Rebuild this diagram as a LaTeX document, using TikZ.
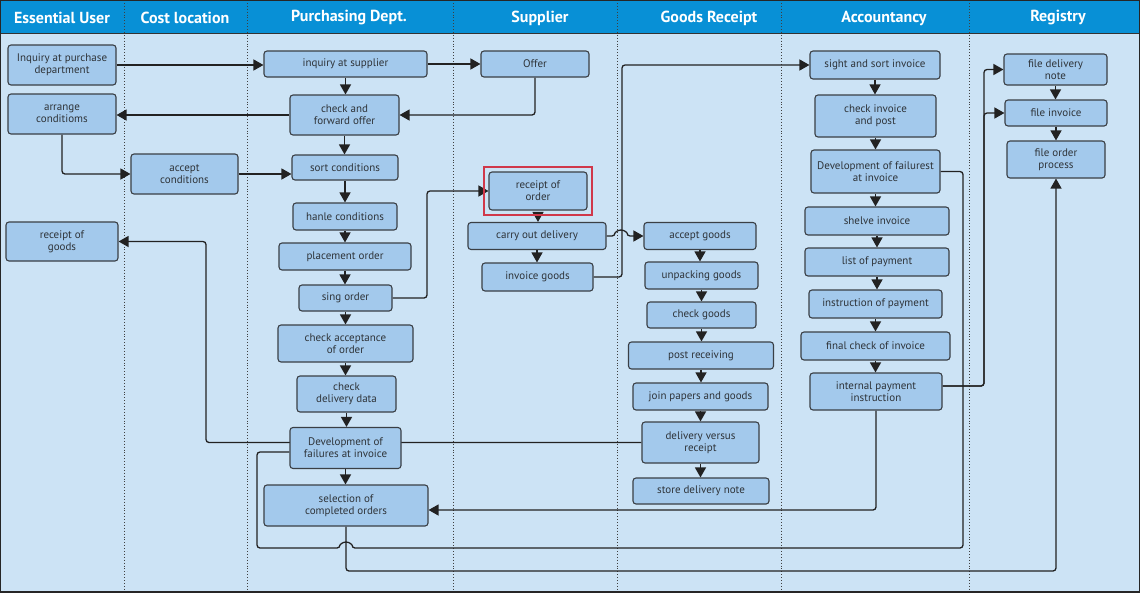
\documentclass[tikz,border=0pt]{standalone}
\usepackage{fontspec}
\setmainfont{PT Sans}
\usetikzlibrary{arrows.meta,fit}
\definecolor{hdr}{HTML}{0890D6}
\definecolor{lanebg}{HTML}{CCE3F5}
\definecolor{boxf}{HTML}{A3C9EC}
\definecolor{boxl}{HTML}{3A3F45}
\definecolor{txt}{HTML}{2E3338}
\definecolor{lnc}{HTML}{222222}
\definecolor{redf}{HTML}{D0384A}
\pgfdeclarelayer{back}
\pgfdeclarelayer{conn}
\pgfsetlayers{back,conn,main}
\newcommand\bx[6]{\node[box,minimum width=#4pt,minimum height=#5pt] (#1) at (#2,#3) {#6};}
\begin{document}
\begin{tikzpicture}[x=1pt,y=-1pt,
  box/.style={draw=boxl, fill=boxf, rounded corners=3pt, line width=1.1pt, align=center, inner sep=0pt, text=txt, font=\fontsize{11}{12}\selectfont},
  arr/.style={draw=lnc, line width=1.3pt, rounded corners=3pt, -{Triangle[length=10pt,width=11pt]}},
  ln/.style={draw=lnc, line width=1.3pt, rounded corners=3pt},
  hdrtext/.style={text=white, font=\fontsize{16}{18}\selectfont\bfseries},
  sep/.style={draw=black!75, line width=0.9pt, dotted}]
\useasboundingbox (0,0) rectangle (1140,592);
\begin{pgfonlayer}{back}
\fill[lanebg] (0,0) rectangle (1140,592);
\fill[hdr] (0,0) rectangle (1140,33);
\draw[black!80, line width=1pt] (0,33) -- (1140,33);
\foreach \x in {124,247.5,453,617,781,969} \draw[sep] (\x,0) -- (\x,592);
\draw[black!85, line width=1.6pt] (0,0) rectangle (1140,592);
\end{pgfonlayer}
% headers
\node[hdrtext] (h1) at (62,18) {Essential User};
\node[hdrtext] (h2) at (185,18) {Cost location};
\node[hdrtext] (h3) at (349,18) {Purchasing Dept.};
\node[hdrtext] (h4) at (540,18) {Supplier};
\node[hdrtext] (h5) at (709,18) {Goods Receipt};
\node[hdrtext] (h6) at (884,18) {Accountancy};
\node[hdrtext] (h7) at (1058,18) {Registry};
% Essential User
\bx{eu1}{62}{65}{108}{40}{Inquiry at purchase\\department}
\bx{eu2}{62}{114}{108}{40}{arrange\\conditioms}
\bx{eu3}{62}{241.5}{112}{39}{receipt of\\goods}
% Cost location
\bx{cl1}{184.5}{174}{107}{40}{accept\\conditions}
% Purchasing
\bx{pd1}{345.5}{64}{163}{26}{inquiry at supplier}
\bx{pd2}{344.5}{115}{109}{40}{check and\\forward offer}
\bx{pd3}{345}{167.5}{106}{25}{sort conditions}
\bx{pd4}{345}{216.5}{104}{27}{hanle conditions}
\bx{pd5}{345}{256.5}{132}{27}{placement order}
\bx{pd6}{345.5}{298}{93}{26}{sing order}
\bx{pd7}{345.5}{343.5}{135}{37}{check acceptance\\of order}
\bx{pd8}{346.5}{394}{99}{36}{check\\delivery data}
\bx{pd9}{345.5}{448}{111}{41}{Development of\\failures at invoice}
\bx{pd10}{346}{505.5}{164}{41}{selection of\\completed orders}
% Supplier
\bx{su1}{535}{64}{108}{26}{Offer}
\bx{su2}{538}{191}{98}{38}{receipt of\\order}
\node[draw=redf, line width=1.2pt, inner sep=4.5pt, fit=(su2)] (rf) {};
\bx{su3}{537}{236}{138}{27}{carry out delivery}
\bx{su4}{537.5}{277}{111}{28}{invoice goods}
% Goods receipt
\bx{gr1}{700}{236}{112}{27}{accept goods}
\bx{gr2}{701.5}{275.5}{113}{27}{unpacking goods}
\bx{gr3}{701.5}{315}{109}{26}{check goods}
\bx{gr4}{701}{355.5}{145}{27}{post receiving}
\bx{gr5}{700.5}{396.5}{135}{27}{join papers and goods}
\bx{gr6}{700.5}{442.5}{117}{41}{delivery versus\\receipt}
\bx{gr7}{701}{491}{136}{26}{store delivery note}
% Accountancy
\bx{ac1}{875}{65}{130}{28}{sight and sort invoice}
\bx{ac2}{875.5}{116}{121}{42}{check invoice\\and post}
\bx{ac3}{875.5}{171.5}{129}{43}{Development of failurest\\at invoice}
\bx{ac4}{877}{221}{144}{28}{shelve invoice}
\bx{ac5}{877}{262}{144}{28}{list of payment}
\bx{ac6}{875.5}{304}{133}{28}{instruction of payment}
\bx{ac7}{875.5}{346}{149}{28}{final check of invoice}
\bx{ac8}{876}{391.5}{132}{37}{internal payment\\instruction}
% Registry
\bx{rg1}{1055.5}{69.5}{103}{31}{file delivery\\note}
\bx{rg2}{1056}{113}{102}{26}{file invoice}
\bx{rg3}{1056}{159.5}{98}{37}{file order\\process}
\begin{pgfonlayer}{conn}
\draw[arr] (eu1.east) -- (eu1.east -| pd1.west);
\draw[arr] (pd1.east) -- (su1.west);
\draw[arr] (pd1.south) -- (pd1.south |- pd2.north);
\draw[arr] (su1.south) |- (pd2.east);
\draw[arr] (pd2.west) -- (pd2.west -| eu2.east);
\draw[arr] (eu2.south) |- (cl1.west);
\draw[arr] (cl1.east) -- (cl1.east -| pd3.west);
\foreach \a/\b in {pd2/pd3,pd3/pd4,pd4/pd5,pd5/pd6,pd6/pd7,pd7/pd8,pd8/pd9,pd9/pd10,
  gr1/gr2,gr2/gr3,gr3/gr4,gr4/gr5,gr5/gr6,gr6/gr7,
  ac1/ac2,ac2/ac3,ac3/ac4,ac4/ac5,ac5/ac6,ac6/ac7,ac7/ac8,rg1/rg2,rg2/rg3,su3/su4}
  \draw[arr] (\a.south) -- (\a.south |- \b.north);
\draw[arr] (pd6.east) -- (427,298) |- (su2.west);
\draw[arr] (rf.south) -- (rf.south |- su3.north);
\draw[arr] (su3.east) -- (615,236) arc (180:360:6) -- (gr1.west);
\draw[arr] (su4.east) -- (622,277) |- (ac1.west);
\draw[arr] (gr6.west) -- (206,442.5) |- (eu3.east);
\draw[ln] (ac3.east) -- (963,171.5) -- (963,548) -- (352,548) arc (0:-180:6) -- (257,548) |- (pd9.west |- 0,452);
\draw[arr] (pd10.south) -- (346,571) -| (rg3.south);
\draw[arr] (ac8.south) |- (pd10.east |- 0,510);
\draw[arr] (ac8.east |- 0,386) -- (984,386) |- (rg2.west);
\draw[arr] (ac8.east |- 0,386) -- (984,386) |- (rg1.west);
\end{pgfonlayer}
\end{tikzpicture}
\end{document}
